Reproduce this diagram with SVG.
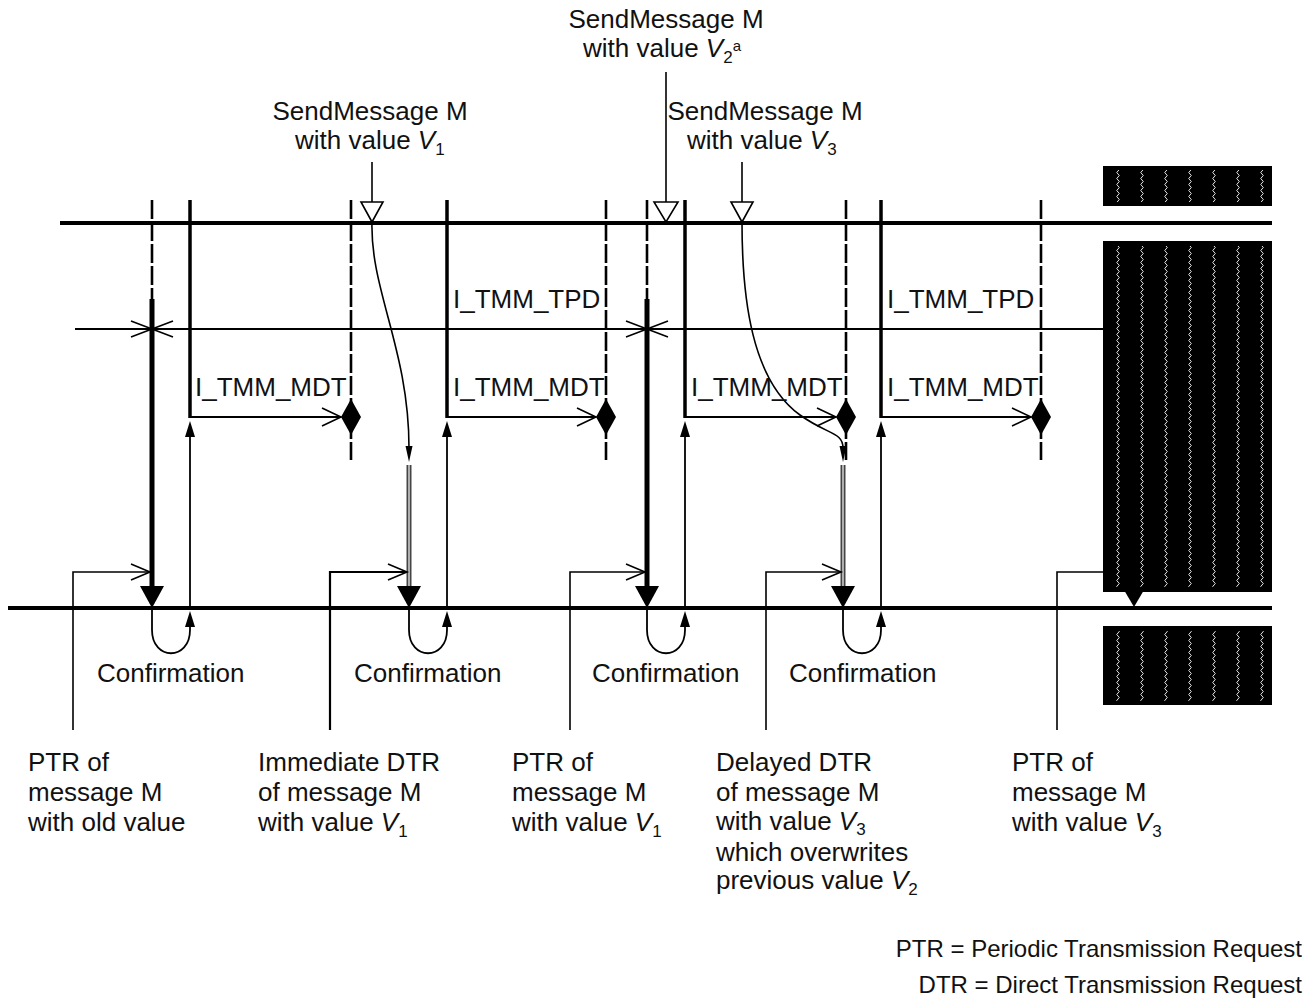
<svg xmlns="http://www.w3.org/2000/svg" width="1306" height="1001" viewBox="0 0 1306 1001">
<style>
text{font-family:"Liberation Sans",Arial,sans-serif;font-size:26px;fill:#111}
.leg{font-size:24px}
.v{font-style:italic}
.sub{font-size:17px}
.ln{stroke:#000;fill:none}
.thick{stroke:#000;stroke-width:3.5;fill:none}
.thin{stroke:#000;stroke-width:1.8;fill:none}
.dash{stroke:#000;stroke-width:2.6;stroke-dasharray:19,3;fill:none}
.fat{stroke:#000;stroke-width:5;fill:none}
.open{stroke:#000;stroke-width:1.6;fill:none}
.tri{fill:#fff;stroke:#000;stroke-width:1.6}
.blk{fill:#000}
.dbl{stroke:#444;stroke-width:5;fill:none}
.dblin{stroke:#ddd;stroke-width:1.4;fill:none}
</style>
<defs>
<pattern id="wave" patternUnits="userSpaceOnUse" x="1106" y="0" width="24" height="6">
<path d="M12,0 Q14.5,1.5 12,3 Q9.5,4.5 12,6" stroke="#fff" stroke-width="0.9" fill="none"/>
</pattern>
</defs>
<rect width="1306" height="1001" fill="#fff"/>

<g id="timelines">
<line class="ln" x1="60" y1="223" x2="1272" y2="223" stroke-width="4"/>
<line class="ln" x1="75" y1="329" x2="1103" y2="329" stroke-width="2"/>
<line class="ln" x1="8" y1="608" x2="1272" y2="608" stroke-width="4"/>
</g>

<g id="blocks">
<rect class="blk" x="1103" y="166" width="169" height="40"/>
<rect class="blk" x="1103" y="241" width="169" height="351"/>
<rect class="blk" x="1103" y="626" width="169" height="79"/>
<rect x="1106" y="170" width="166" height="32" fill="url(#wave)"/>
<rect x="1106" y="246" width="166" height="341" fill="url(#wave)"/>
<rect x="1106" y="631" width="166" height="70" fill="url(#wave)"/>
<polygon class="blk" points="1124,590 1144,590 1134,607"/>
</g>

<g id="connectors">
<line class="dash" x1="152" y1="200" x2="152" y2="300"/>
<line class="dash" x1="351" y1="200" x2="351" y2="460"/>
<line class="dash" x1="606" y1="200" x2="606" y2="460"/>
<line class="dash" x1="647" y1="200" x2="647" y2="300"/>
<line class="dash" x1="846" y1="200" x2="846" y2="460"/>
<line class="dash" x1="1041" y1="200" x2="1041" y2="460"/>

<line class="fat" x1="152" y1="299" x2="152" y2="588"/>
<polygon class="blk" points="140,586 164,586 152,608"/>
<line class="fat" x1="647" y1="299" x2="647" y2="588"/>
<polygon class="blk" points="635,586 659,586 647,608"/>

<path class="open" d="M131,321 L152,329 L131,337 M173,321 L152,329 L173,337"/>
<path class="open" d="M626,321 L647,329 L626,337 M668,321 L647,329 L668,337"/>

<line class="thick" x1="190" y1="200" x2="190" y2="418"/>
<line class="thin" x1="190" y1="436" x2="190" y2="608"/>
<polygon class="blk" points="190,421 185,437 195,437"/>
<line class="thick" x1="447" y1="200" x2="447" y2="418"/>
<line class="thin" x1="447" y1="436" x2="447" y2="608"/>
<polygon class="blk" points="447,421 442,437 452,437"/>
<line class="thick" x1="685" y1="200" x2="685" y2="418"/>
<line class="thin" x1="685" y1="436" x2="685" y2="608"/>
<polygon class="blk" points="685,421 680,437 690,437"/>
<line class="thick" x1="881" y1="200" x2="881" y2="418"/>
<line class="thin" x1="881" y1="436" x2="881" y2="608"/>
<polygon class="blk" points="881,421 876,437 886,437"/>

<line class="thin" x1="190" y1="417" x2="340" y2="417"/>
<path class="open" d="M322,408 L341,417 L322,426"/>
<polygon class="blk" points="351,399 361,417 351,435 341,417"/>
<line class="thin" x1="447" y1="417" x2="595" y2="417"/>
<path class="open" d="M577,408 L596,417 L577,426"/>
<polygon class="blk" points="606,399 616,417 606,435 596,417"/>
<line class="thin" x1="685" y1="417" x2="835" y2="417"/>
<path class="open" d="M817,408 L836,417 L817,426"/>
<polygon class="blk" points="846,399 856,417 846,435 836,417"/>
<line class="thin" x1="881" y1="417" x2="1030" y2="417"/>
<path class="open" d="M1012,408 L1031,417 L1012,426"/>
<polygon class="blk" points="1041,399 1051,417 1041,435 1031,417"/>

<line class="ln" x1="372" y1="162" x2="372" y2="202" stroke-width="1.6"/>
<polygon class="tri" points="361,202 383,202 372,222"/>
<line class="ln" x1="666" y1="72" x2="666" y2="202" stroke-width="1.6"/>
<polygon class="tri" points="654,202 678,202 666,222"/>
<line class="ln" x1="742" y1="162" x2="742" y2="202" stroke-width="1.6"/>
<polygon class="tri" points="731,202 753,202 742,222"/>

<path class="ln" stroke-width="1.6" d="M372,222 C370,290 409,350 409,448"/>
<polygon class="blk" points="409,462 405.5,446 412.5,446"/>
<path class="ln" stroke-width="1.6" d="M742,222 C742,300 752,380 800,415 C828,435 843,432 843,448"/>
<polygon class="blk" points="843,462 839.5,446 846.5,446"/>

<line class="dbl" x1="409" y1="465" x2="409" y2="588"/>
<line class="dblin" x1="409" y1="465" x2="409" y2="586"/>
<polygon class="blk" points="397,586 421,586 409,608"/>
<line class="dbl" x1="843" y1="465" x2="843" y2="588"/>
<line class="dblin" x1="843" y1="465" x2="843" y2="586"/>
<polygon class="blk" points="831,586 855,586 843,608"/>

<path class="ln" stroke-width="1.8" d="M152,608 V630 C152,661 190,661 190,630 V626"/>
<polygon class="blk" points="190,611 185,627 195,627"/>
<path class="ln" stroke-width="1.8" d="M409,608 V630 C409,661 447,661 447,630 V626"/>
<polygon class="blk" points="447,611 442,627 452,627"/>
<path class="ln" stroke-width="1.8" d="M647,608 V630 C647,661 685,661 685,630 V626"/>
<polygon class="blk" points="685,611 680,627 690,627"/>
<path class="ln" stroke-width="1.8" d="M843,608 V630 C843,661 881,661 881,630 V626"/>
<polygon class="blk" points="881,611 876,627 886,627"/>

<path class="ln" stroke-width="1.6" d="M73,730 V572 H149"/>
<path class="open" d="M131,564 L150,572 L131,580"/>
<path class="ln" stroke-width="2.2" d="M330,730 V572 H406"/>
<path class="open" d="M388,564 L407,572 L388,580"/>
<path class="ln" stroke-width="1.6" d="M570,730 V572 H644"/>
<path class="open" d="M626,564 L645,572 L626,580"/>
<path class="ln" stroke-width="1.6" d="M766,730 V572 H840"/>
<path class="open" d="M822,564 L841,572 L822,580"/>
<path class="ln" stroke-width="1.6" d="M1057,730 V572 H1103"/>
</g>

<g id="send-labels">
<text x="370" y="120" text-anchor="middle">SendMessage M</text>
<text x="295" y="149">with value <tspan class="v">V</tspan><tspan class="sub" dy="6">1</tspan></text>
<text x="666" y="28" text-anchor="middle">SendMessage M</text>
<text x="583" y="57">with value <tspan class="v">V</tspan><tspan class="sub" dy="6">2</tspan><tspan font-size="15" dy="-12">a</tspan></text>
<text x="765" y="120" text-anchor="middle">SendMessage M</text>
<text x="687" y="149">with value <tspan class="v">V</tspan><tspan class="sub" dy="6">3</tspan></text>
</g>

<g id="interval-labels">
<text x="453" y="308">I_TMM_TPD</text>
<text x="887" y="308">I_TMM_TPD</text>
<text x="195" y="396">I_TMM_MDT</text>
<text x="453" y="396">I_TMM_MDT</text>
<text x="691" y="396">I_TMM_MDT</text>
<text x="887" y="396">I_TMM_MDT</text>
</g>

<g id="confirmation-labels">
<text x="97" y="682">Confirmation</text>
<text x="354" y="682">Confirmation</text>
<text x="592" y="682">Confirmation</text>
<text x="789" y="682">Confirmation</text>
</g>

<g id="request-labels">
<text x="28" y="771">PTR of</text>
<text x="28" y="801">message M</text>
<text x="28" y="831">with old value</text>
<text x="258" y="771">Immediate DTR</text>
<text x="258" y="801">of message M</text>
<text x="258" y="831">with value <tspan class="v">V</tspan><tspan class="sub" dy="6">1</tspan></text>
<text x="512" y="771">PTR of</text>
<text x="512" y="801">message M</text>
<text x="512" y="831">with value <tspan class="v">V</tspan><tspan class="sub" dy="6">1</tspan></text>
<text x="716" y="771">Delayed DTR</text>
<text x="716" y="801">of message M</text>
<text x="716" y="830">with value <tspan class="v">V</tspan><tspan class="sub" dy="5">3</tspan></text>
<text x="716" y="861">which overwrites</text>
<text x="716" y="889">previous value <tspan class="v">V</tspan><tspan class="sub" dy="6">2</tspan></text>
<text x="1012" y="771">PTR of</text>
<text x="1012" y="801">message M</text>
<text x="1012" y="831">with value <tspan class="v">V</tspan><tspan class="sub" dy="6">3</tspan></text>
</g>

<g id="legend">
<text class="leg" x="1302" y="957" text-anchor="end">PTR = Periodic Transmission Request</text>
<text class="leg" x="1302" y="993" text-anchor="end">DTR = Direct Transmission Request</text>
</g>
</svg>
